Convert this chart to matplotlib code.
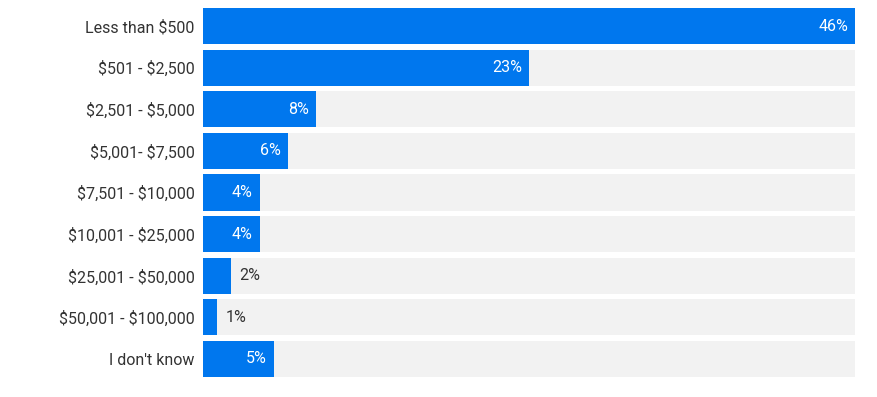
import matplotlib
matplotlib.use("Agg")
import matplotlib.pyplot as plt

# data
categories = ["Less than $500", "$501 - $2,500", "$2,501 - $5,000", "$5,001- $7,500",
              "$7,501 - $10,000", "$10,001 - $25,000", "$25,001 - $50,000",
              "$50,001 - $100,000", "I don't know"]
values = [46, 23, 8, 6, 4, 4, 2, 1, 5]

plt.rcParams['font.family'] = ['Roboto', 'DejaVu Sans']
plt.rcParams['text.parse_math'] = False  # keep the $ signs literal

fig = plt.figure(figsize=(8.77, 3.97), dpi=100)
ax = fig.add_axes([203/877, 1 - 379.8/397, 652/877, 374.6/397])

vmax = max(values)
ypos = list(range(len(categories)))

# gray track behind each bar
ax.barh(ypos, [vmax] * len(values), height=0.865, color="#f2f2f2", zorder=1)
ax.barh(ypos, values, height=0.865, color="#0077ee", zorder=2)

for y, v in zip(ypos, values):
    if v >= 4:
        ax.annotate(f"{v}%", (v, y), xytext=(-5, 0), textcoords="offset points",
                    ha="right", va="center", color="white", fontsize=11.5, zorder=3)
    else:
        ax.annotate(f"{v}%", (v, y), xytext=(6, 0), textcoords="offset points",
                    ha="left", va="center", color="#333333", fontsize=11.5, zorder=3)

ax.set_xlim(0, vmax)
ax.set_ylim(len(categories) - 0.5, -0.5)
ax.set_yticks(ypos)
ax.set_yticklabels(categories, fontsize=11.5, color="#333333")
ax.tick_params(axis="y", length=0, pad=6)
ax.set_xticks([])
for s in ax.spines.values():
    s.set_visible(False)

fig.savefig("out.png", dpi=100)
